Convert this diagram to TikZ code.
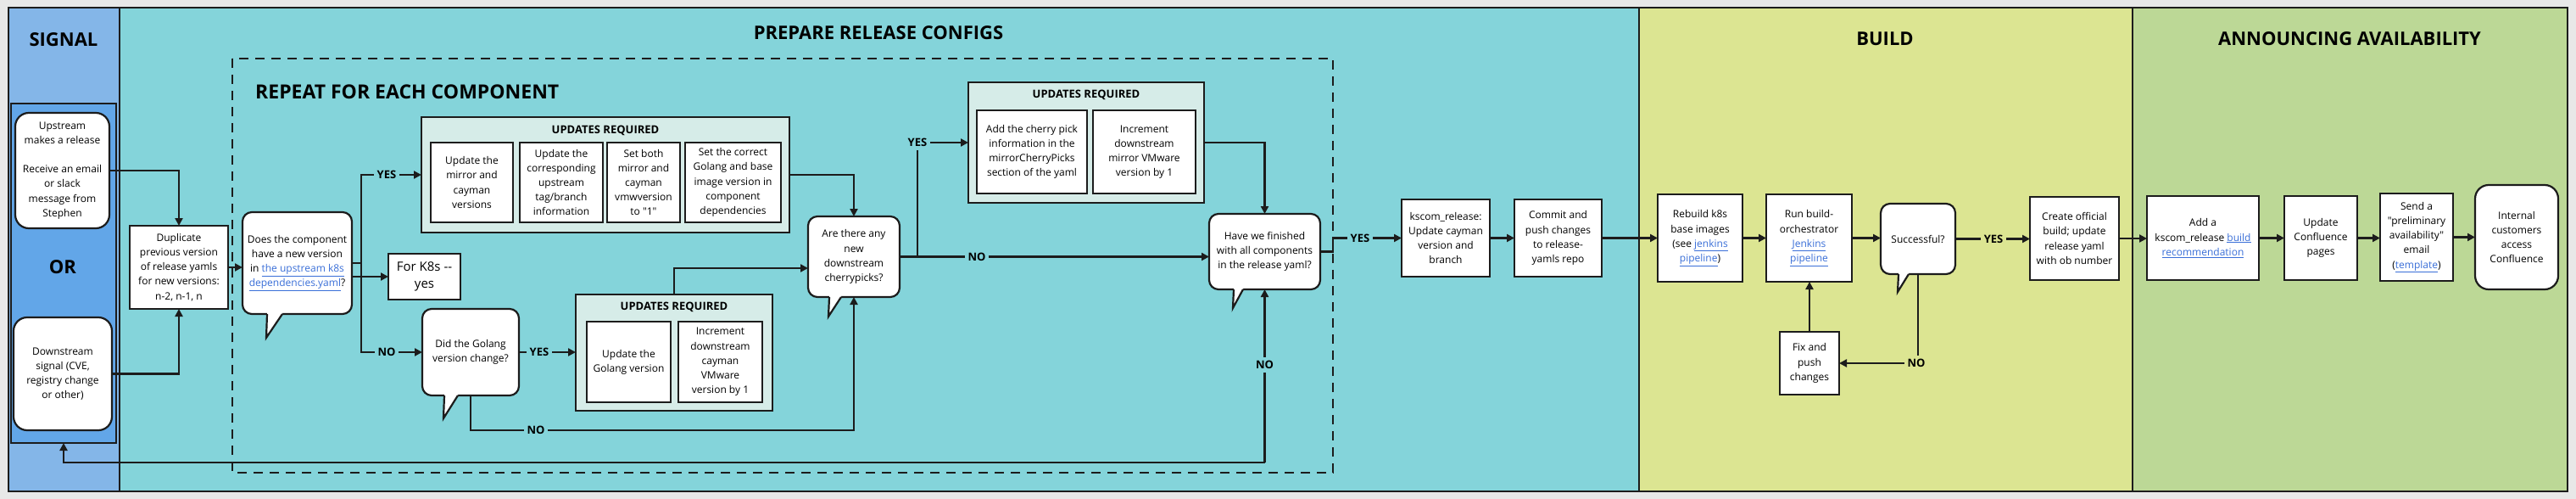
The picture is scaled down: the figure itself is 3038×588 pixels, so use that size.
\documentclass[tikz,border=0pt]{standalone}
\usepackage{fontspec}
\setmainfont{Open Sans}[Ligatures=TeXOff]
\usetikzlibrary{arrows.meta,calc}
\definecolor{bgc}{HTML}{E8E8E8}
\definecolor{sigc}{HTML}{84B6E8}
\definecolor{orc}{HTML}{62A6E8}
\definecolor{prepc}{HTML}{84D4DA}
\definecolor{buildc}{HTML}{DCE592}
\definecolor{annc}{HTML}{BCD896}
\definecolor{grpc}{HTML}{D6ECE8}
\definecolor{bd}{HTML}{1C1C1C}
\definecolor{linkc}{HTML}{3A6FD8}
\newcommand{\myBody}{\fontsize{12}{17.2}\selectfont}
\newcommand{\myTitle}{\fontsize{22}{26}\selectfont\bfseries}
\newcommand{\myGrp}{\fontsize{13}{16}\selectfont\bfseries}
\newcommand{\myLbl}{\fontsize{13}{16}\selectfont\bfseries}
\newcommand{\lnk}[1]{\textcolor{linkc}{\underline{#1}}}
\newcommand{\btail}[4]{%
 \fill[white] ($(#1.south west)+(#2,-2.5)$) -- ($(#1.south west)+(#3,-2.5)$) -- ($(#1.south west)+(#3,0)$) -- ($(#1.south west)+(#2-1,#4)$) -- ($(#1.south west)+(#2,0)$) -- cycle;
 \draw[tailln] ($(#1.south west)+(#2,0)$) -- ($(#1.south west)+(#2-1,#4)$) -- ($(#1.south west)+(#3,0)$);}
\begin{document}
\begin{tikzpicture}[x=1pt,y=-1pt,
  lane/.style={draw=bd, line width=2pt},
  box/.style={draw=bd, fill=white, line width=2.2pt, align=center, inner sep=2pt, outer sep=0pt, font=\myBody},
  rbox/.style={box, rounded corners=16pt},
  bubble/.style={box, rounded corners=11pt},
  grp/.style={draw=bd, fill=grpc, line width=2pt, outer sep=0pt, inner sep=0pt},
  grptitle/.style={font=\myGrp, inner sep=1pt},
  orbox/.style={draw=bd, fill=orc, line width=2.2pt, outer sep=0pt},
  ln/.style={line width=2.4pt, draw=bd},
  arr/.style={ln, -{Triangle[length=9pt,width=9pt]}},
  tailln/.style={line width=2.2pt, draw=bd, line join=miter},
  lbl/.style={font=\myLbl, inner sep=4pt, fill=prepc},
  ttl/.style={font=\myTitle, inner sep=0pt},
  dashbox/.style={draw=bd, line width=2pt, dash pattern=on 11pt off 8pt}]
\useasboundingbox (0,0) rectangle (3038,588);
\fill[bgc] (0,0) rectangle (3038,588);
% lanes
\draw[lane, fill=sigc] (10,9) rectangle (141,579);
\draw[lane, fill=prepc] (141,9) rectangle (1933,579);
\draw[lane, fill=buildc] (1933,9) rectangle (2515,579);
\draw[lane, fill=annc] (2515,9) rectangle (3028,579);
\node[ttl] (tsig) at (75,47) {SIGNAL};
\node[ttl] (tprep) at (1036,39) {PREPARE RELEASE CONFIGS};
\node[ttl] (tbuild) at (2223,46) {BUILD};
\node[ttl] (tann) at (2771,46) {ANNOUNCING AVAILABILITY};
% signal
\node[orbox, minimum width=124pt, minimum height=400pt] (orbox) at (75,322) {};
\node[rbox, minimum width=111pt, minimum height=136pt] (up) at (73.5,201) {Upstream\\makes a release\\[17pt]Receive an email\\or slack\\message from\\Stephen};
\node[ttl] (tor) at (74,315) {OR};
\node[rbox, minimum width=116pt, minimum height=133pt] (down) at (74,440.5) {Downstream\\signal (CVE,\\registry change\\or other)};
% prepare
\node[box, minimum width=116pt, minimum height=98pt] (dup) at (211,315) {Duplicate\\previous version\\of release yamls\\for new versions:\\n-2, n-1, n};
\draw[dashbox] (274,69) rectangle (1572,557);
\node[ttl, anchor=west, font=\fontsize{23}{27}\selectfont\bfseries] (trep) at (301,108) {REPEAT FOR EACH COMPONENT};
\node[bubble, minimum width=129pt, minimum height=120pt] (does) at (350.5,310) {Does the component\\have a new version\\in \lnk{the upstream k8s}\\\lnk{dependencies.yaml}?};
\node[box, minimum width=85pt, minimum height=54pt, font=\fontsize{15}{20}\selectfont] (k8s) at (500.5,326) {For K8s -{}-\\yes};
% group 1
\node[grp, minimum width=434pt, minimum height=136pt] (g1) at (714,206) {};
\node[grptitle] (g1t) at (714,154) {UPDATES REQUIRED};
\node[box, minimum width=97pt, minimum height=94pt] (ua) at (556.5,215) {Update the\\mirror and\\cayman\\versions};
\node[box, minimum width=98pt, minimum height=94pt] (ub) at (662,215) {Update the\\corresponding\\upstream\\tag/branch\\information};
\node[box, minimum width=86pt, minimum height=94pt] (uc) at (759,215) {Set both\\mirror and\\cayman\\vmwversion\\to "1"};
\node[box, minimum width=113pt, minimum height=94pt] (ud) at (864.5,215) {Set the correct\\Golang and base\\image version in\\component\\dependencies};
% golang
\node[bubble, minimum width=114pt, minimum height=102pt] (golang) at (555,415) {Did the Golang\\version change?};
\node[grp, minimum width=232pt, minimum height=137pt] (ggrp) at (795,415.5) {};
\node[grptitle] (ggt) at (795,362) {UPDATES REQUIRED};
\node[box, minimum width=99pt, minimum height=95pt] (ge) at (741.5,426.5) {Update the\\Golang version};
\node[box, minimum width=99pt, minimum height=95pt] (gf) at (849.5,426.5) {Increment\\downstream\\cayman\\VMware\\version by 1};
% cherry
\node[bubble, minimum width=108pt, minimum height=95pt] (cherry) at (1007,302.5) {Are there any\\new\\downstream\\cherrypicks?};
\node[grp, minimum width=278pt, minimum height=142pt] (g2) at (1281,168) {};
\node[grptitle] (g2t) at (1281,112) {UPDATES REQUIRED};
\node[box, minimum width=130pt, minimum height=98pt] (cg) at (1217,179) {Add the cherry pick\\information in the\\mirrorCherryPicks\\section of the yaml};
\node[box, minimum width=121pt, minimum height=98pt] (ch) at (1349.5,179) {Increment\\downstream\\mirror VMware\\version by 1};
% have
\node[bubble, minimum width=131pt, minimum height=89pt] (have) at (1491.5,296.5) {Have we finished\\with all components\\in the release yaml?};
\node[box, minimum width=104pt, minimum height=91pt] (kscom) at (1705,280.5) {kscom\_release:\\Update cayman\\version and\\branch};
\node[box, minimum width=103pt, minimum height=91pt] (commit) at (1837.5,280.5) {Commit and\\push changes\\to release-\\yamls repo};
% build
\node[box, minimum width=100pt, minimum height=103pt] (rebuild) at (2005,280.5) {Rebuild k8s\\base images\\(see \lnk{jenkins}\\\lnk{pipeline})};
\node[box, minimum width=101pt, minimum height=103pt] (run) at (2133.5,280.5) {Run build-\\orchestrator\\\lnk{Jenkins}\\\lnk{pipeline}};
\node[bubble, minimum width=88pt, minimum height=83pt] (succ) at (2262,281.5) {Successful?};
\node[box, minimum width=105pt, minimum height=98pt] (create) at (2446.5,281) {Create official\\build; update\\release yaml\\with ob number};
\node[box, minimum width=70pt, minimum height=74pt] (fix) at (2134,428) {Fix and\\push\\changes};
% announce
\node[box, minimum width=132pt, minimum height=99pt] (add) at (2598,280.5) {Add a\\kscom\_release \lnk{build}\\\lnk{recommendation}};
\node[box, minimum width=86pt, minimum height=99pt] (updc) at (2737,280.5) {Update\\Confluence\\pages};
\node[box, minimum width=86pt, minimum height=103pt] (send) at (2850,279.5) {Send a\\"preliminary\\availability"\\email\\(\lnk{template})};
\node[rbox, minimum width=98pt, minimum height=123pt] (internal) at (2968,279.5) {Internal\\customers\\access\\Confluence};
% bubble tails
\btail{does}{29}{47}{28}
\btail{golang}{26}{42}{27}
\btail{cherry}{25}{39}{23}
\btail{have}{29}{40}{22}
\btail{succ}{21}{33}{21}
% connectors
\draw[arr] (up.east) -| (dup.north);
\draw[arr] (down.east) -| (dup.south);
\draw[arr] (dup.east) -- (dup.east -| does.west);
\draw[arr] (does.east) -- ++(11,0) |- (g1.west);
\draw[arr] (does.east) -- ++(11,0) |- (golang.west);
\draw[arr] (does.east |- k8s.west) -- (k8s.west);
\draw[arr] (g1.east) -| (cherry.north);
\draw[arr] (golang.east) -- (golang.east -| ggrp.west);
\draw[arr] (ggrp.north) |- ($(cherry.west)+(0,13.5)$);
\draw[arr] (golang.south) -- ++(0,41) -| (cherry.south);
\draw[arr] (cherry.east) -- ++(21,0) |- (g2.west);
\draw[arr] (cherry.east) -- (cherry.east -| have.west);
\draw[arr] (g2.east) -| (have.north);
\draw[arr] (have.east) -- ++(15,0) |- (kscom.west);
\coordinate (loopc) at (1491.5,545);
\draw[arr] (loopc) -- (have.south);
\draw[arr] (loopc) -| (orbox.south);
\draw[arr] (kscom.east) -- (commit.west);
\draw[arr] (commit.east) -- (rebuild.west);
\draw[arr] (rebuild.east) -- (run.west);
\draw[arr] (run.east) -- (run.east -| succ.west);
\draw[arr] (succ.east) -- (succ.east -| create.west);
\draw[arr] (succ.south) |- (fix.east);
\draw[arr] (fix.north) -- (fix.north |- run.south);
\draw[arr] (create.east) -- (create.east -| add.west);
\draw[arr] (add.east) -- (updc.west);
\draw[arr] (updc.east) -- (updc.east -| send.west);
\draw[arr] (send.east) -- (send.east -| internal.west);
% labels
\node[lbl] (lyes1) at (456,206) {YES};
\node[lbl] (lno1) at (456,415) {NO};
\node[lbl] (lyes2) at (636,415) {YES};
\node[lbl] (lno2) at (632,507) {NO};
\node[lbl] (lyes3) at (1082,168) {YES};
\node[lbl] (lno3) at (1152,302.5) {NO};
\node[lbl] (lno4) at (1491.5,430) {NO};
\node[lbl] (lyes4) at (1604,280.5) {YES};
\node[lbl, fill=buildc] (lyes5) at (2351,281.5) {YES};
\node[lbl, fill=buildc] (lno5) at (2260,428) {NO};
\end{tikzpicture}
\end{document}
